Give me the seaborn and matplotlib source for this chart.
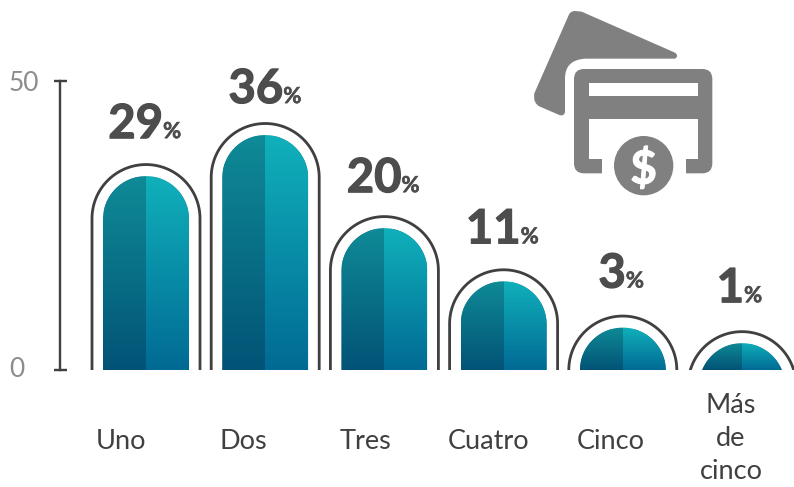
import numpy as np
import pandas as pd
import seaborn as sns
import matplotlib
matplotlib.use("Agg")
import matplotlib.pyplot as plt
import matplotlib.patheffects as pe
from matplotlib.colors import LinearSegmentedColormap
from matplotlib.path import Path
from matplotlib.patches import PathPatch, FancyBboxPatch, Rectangle, Circle
from matplotlib.transforms import ScaledTranslation

categorias = ["Uno", "Dos", "Tres", "Cuatro", "Cinco", "Más\nde\ncinco"]
alturas = [33.6, 40.7, 24.6, 15.4, 7.4, 4.7]
porcentajes = [29, 36, 20, 11, 3, 1]
y_ticks = [0, 50]

W, H = 794, 487
PX = 0.72  # points per pixel at dpi 100
GRIS = "#4d4d4d"
OSCURO = "#404040"
ICONO = "#808080"

sns.set_style("white")
plt.rcParams["font.family"] = ["Lato", "DejaVu Sans"]

fig = plt.figure(figsize=(W / 100, H / 100), dpi=100)
y0, y50 = 370.4, 81.3
ax = fig.add_axes([60 / W, (H - y0) / H, (W - 60) / W, (y0 - y50) / H])

df = pd.DataFrame({"cat": categorias, "val": alturas})
paso = 119.2
sns.barplot(data=df, x="cat", y="val", color="#08809a", width=86 / paso, ax=ax)
ax.set_xlim((60 - 146) / paso, (W - 146) / paso)
ax.set_ylim(0, 50)
ax.set_xlabel("")
ax.set_ylabel("")

por_unidad = (y0 - y50) / 50


def domo(c, alto, radio_px):
    # rounded top, cut off at the baseline when the bar is shorter than the radius
    rx = radio_px / paso
    ry = radio_px / por_unidad
    t0 = np.arcsin(np.clip((ry - alto) / ry, 0, 1))
    t = np.linspace(t0, np.pi - t0, 120)
    xs = c + rx * np.cos(t)
    ys = alto - ry + ry * np.sin(t)
    return np.r_[c + rx * np.cos(t0), xs, c - rx * np.cos(t0)], np.r_[0, ys, 0]


cm_izq = LinearSegmentedColormap.from_list("izq", ["#0f8b97", "#025376"])
cm_der = LinearSegmentedColormap.from_list("der", ["#10b1bb", "#016a94"])
grad = np.linspace(0, 1, 256)[:, None]

for i, barra in enumerate(ax.patches):
    c = barra.get_x() + barra.get_width() / 2
    alto = barra.get_height()
    xs, ys = domo(c, alto, 43)
    forma = Path(np.c_[xs, ys])
    recorte = PathPatch(forma, transform=ax.transData)
    barra.set_clip_path(recorte)
    for cm, a, b in [(cm_izq, barra.get_x(), c), (cm_der, c, barra.get_x() + barra.get_width())]:
        im = ax.imshow(grad, cmap=cm, extent=(a, b, 0, alto), aspect="auto", zorder=3,
                       interpolation="bilinear")
        im.set_clip_path(PathPatch(forma, transform=ax.transData))
    xs, ys = domo(c, alto + 2.0, 54)
    ax.plot(xs, ys, color=OSCURO, lw=2.8 * PX, zorder=4, solid_capstyle="butt")

ax.set_xlim((60 - 146) / paso, (W - 146) / paso)
ax.set_ylim(0, 50)

# percentage labels above each bar
subida = [38, 32, 36, 38, 40, 41]
corrido = [17, 18, 17, 17, 3, 2]
grueso = [pe.withStroke(linewidth=0.9, foreground=GRIS)]
for i, p in enumerate(porcentajes):
    ax.annotate(str(p), (i, alturas[i]), xytext=(corrido[i] * PX, subida[i] * PX),
                textcoords="offset points", ha="right", va="baseline",
                fontsize=34, fontweight="bold", color=GRIS, annotation_clip=False,
                path_effects=grueso)
    ax.annotate("%", (i, alturas[i]), xytext=(corrido[i] * PX, subida[i] * PX),
                textcoords="offset points", ha="left", va="baseline",
                fontsize=16, fontweight="bold", color=GRIS, annotation_clip=False,
                path_effects=[pe.withStroke(linewidth=0.4, foreground=GRIS)])

# axes
for lado in ["top", "right", "bottom"]:
    ax.spines[lado].set_visible(False)
ax.spines["left"].set_color(OSCURO)
ax.spines["left"].set_linewidth(2.4 * PX)
ax.set_yticks(y_ticks)
ax.tick_params(axis="y", direction="inout", length=13 * PX, width=2.4 * PX, color=OSCURO,
               left=True, pad=32, labelsize=19, labelcolor="#8c8c8c")
ax.tick_params(axis="x", length=0, pad=71 * PX, labelsize=19.5, labelcolor=OSCURO)
ax.set_xticks(range(len(categorias)))
ax.set_xticklabels(categorias, linespacing=1.4)

for lab, d in zip(ax.get_yticklabels(), [3, 0]):
    lab.set_ha("left")
    lab.set_transform(lab.get_transform() + ScaledTranslation(0, d / 100, fig.dpi_scale_trans))
desvio = [-25, -22, -19, -15, -12, -11]
subir = [0, 0, 0, 0, 0, 3]
for lab, d, s in zip(ax.get_xticklabels(), desvio, subir):
    lab.set_va("center")
    lab.set_transform(lab.get_transform() + ScaledTranslation(d / 100, s / 100, fig.dpi_scale_trans))

# credit card icon, in pixel coordinates
ic = fig.add_axes([0, 0, 1, 1], facecolor="none")
ic.set_xlim(0, W)
ic.set_ylim(H, 0)
ic.axis("off")


def z(px, py):
    return 520 + px / 3, py / 3


v = [(165, 33), (185, 35), (465, 158), (478, 168), (465, 176), (195, 176), (135, 180), (135, 235),
     (135, 335), (133, 350), (118, 345), (60, 320), (38, 310), (43, 280), (145, 48), (150, 33), (165, 33)]
codes = [Path.MOVETO, Path.LINETO, Path.LINETO, Path.CURVE3, Path.LINETO, Path.LINETO, Path.CURVE3, Path.LINETO,
         Path.LINETO, Path.CURVE3, Path.LINETO, Path.LINETO, Path.CURVE3, Path.LINETO, Path.LINETO, Path.CURVE3, Path.LINETO]
ic.add_patch(PathPatch(Path([z(*p) for p in v], codes), facecolor=ICONO, edgecolor="none"))

x0, y1 = z(162, 207)
x1, y2 = z(577, 520)
ic.add_patch(FancyBboxPatch((x0 + 10, y1 + 10), x1 - x0 - 20, y2 - y1 - 20,
                            boxstyle="round,pad=10,rounding_size=10", facecolor=ICONO, edgecolor="none"))


def hueco(a, b, c, d):
    xa, ya = z(a, b)
    xb, yb = z(c, d)
    ic.add_patch(Rectangle((xa, ya), xb - xa, yb - ya, facecolor="white", edgecolor="none"))


hueco(208, 250, 533, 287)
hueco(208, 358, 533, 476)
hueco(245, 470, 497, 530)
cx, cy = z(371, 497)
ic.add_patch(Circle((cx, cy), 89 / 3, facecolor=ICONO, edgecolor="none"))
ic.text(cx, cy, "$", ha="center", va="center_baseline", color="white", fontsize=33,
        fontweight="bold", family=["Liberation Sans Narrow", "Lato", "DejaVu Sans"],
        path_effects=[pe.withStroke(linewidth=0.8, foreground="white")])

fig.savefig("out.png", dpi=100, facecolor="white")
